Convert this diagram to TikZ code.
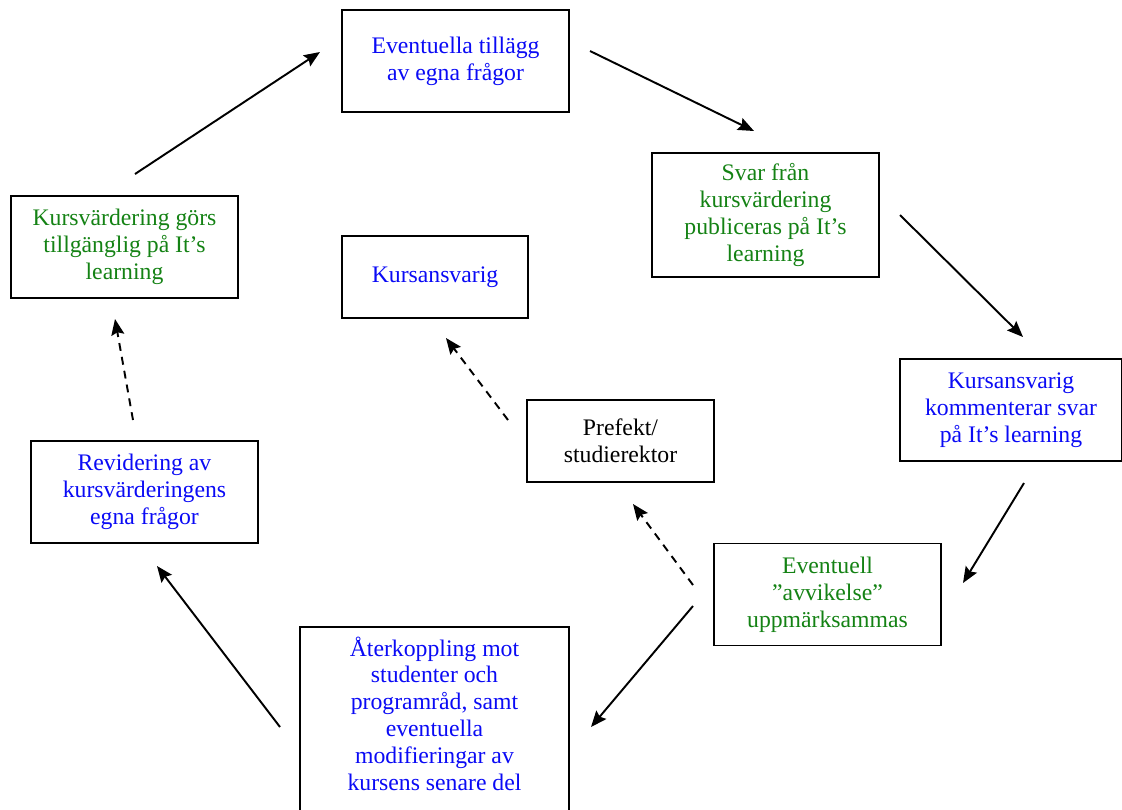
\documentclass[tikz,border=0pt]{standalone}
\usepackage{fontspec}
\setmainfont{Liberation Serif}
\usetikzlibrary{arrows.meta}

\definecolor{textblue}{RGB}{10,10,245}
\definecolor{textgreen}{RGB}{20,130,20}

\begin{document}
\begin{tikzpicture}[x=0.02cm, y=-0.02cm,
		box/.style={draw, line width=1.1pt, minimum width=4.54cm, minimum height=2.04cm, align=center, font=\fontsize{13.5}{15.3}\selectfont},
		flow/.style={-{Stealth[length=3.2mm, width=2.6mm, inset=0.5mm]}, line width=1.1pt},
		maybe/.style={flow, dash pattern=on 4.5pt off 3.5pt}]
				\useasboundingbox (0,0) rectangle (1122,809);
				\node[box, text=textblue] (egna) at (455.5,61) {Eventuella tillägg\\av egna frågor};
				\node[box, text=textgreen, minimum height=2.48cm] (svar) at (765.5,215) {Svar från\\kursvärdering\\publiceras på It’s\\learning};
				\node[box, text=textblue, minimum width=4.44cm] (kommentar) at (1011,410) {Kursansvarig\\kommenterar svar\\på It’s learning};
				\node[box, text=textgreen] (avvikelse) at (827.5,594.5) {Eventuell\\”avvikelse”\\uppmärksammas};
				\node[box, text=textblue, minimum width=5.38cm, minimum height=0pt, inner ysep=5.5pt, anchor=north] (aterkoppling) at (434.5,626) {Återkoppling mot\\studenter och\\programråd, samt\\eventuella\\modifieringar av\\kursens senare del\\[4pt]};
				\node[box, text=textblue] (revidering) at (144.5,492) {Revidering av\\kursvärderingens\\egna frågor};
				\node[box, text=textgreen] (tillganglig) at (124.5,247) {Kursvärdering görs\\tillgänglig på It’s\\learning};
				\node[box, text=textblue, minimum width=3.72cm, minimum height=1.64cm] (ansvarig) at (435,277) {Kursansvarig};
				\node[box, minimum width=3.74cm, minimum height=1.64cm] (prefekt) at (620.5,441) {Prefekt/\\studierektor};
				% arrow ends
				\coordinate (a1) at (135,174); \coordinate (a2) at (320,52);
				\coordinate (b1) at (590,51); \coordinate (b2) at (754,131);
				\coordinate (c1) at (900,215); \coordinate (c2) at (1023,337);
				\coordinate (d1) at (1024,483); \coordinate (d2) at (963,583);
				\coordinate (e1) at (693,606); \coordinate (e2) at (591,727);
				\coordinate (f1) at (280,727); \coordinate (f2) at (157,566);
				\coordinate (g1) at (133,420); \coordinate (g2) at (115,319);
				\coordinate (h1) at (508,420); \coordinate (h2) at (446,338);
				\coordinate (i1) at (693,585); \coordinate (i2) at (633,504);
				\draw[flow] (a1) -- (a2);
				\draw[flow] (b1) -- (b2);
				\draw[flow] (c1) -- (c2);
				\draw[flow] (d1) -- (d2);
				\draw[flow] (e1) -- (e2);
				\draw[flow] (f1) -- (f2);
				\draw[maybe] (g1) -- (g2);
				\draw[maybe] (h1) -- (h2);
				\draw[maybe] (i1) -- (i2);
			\end{tikzpicture}
\end{document}
